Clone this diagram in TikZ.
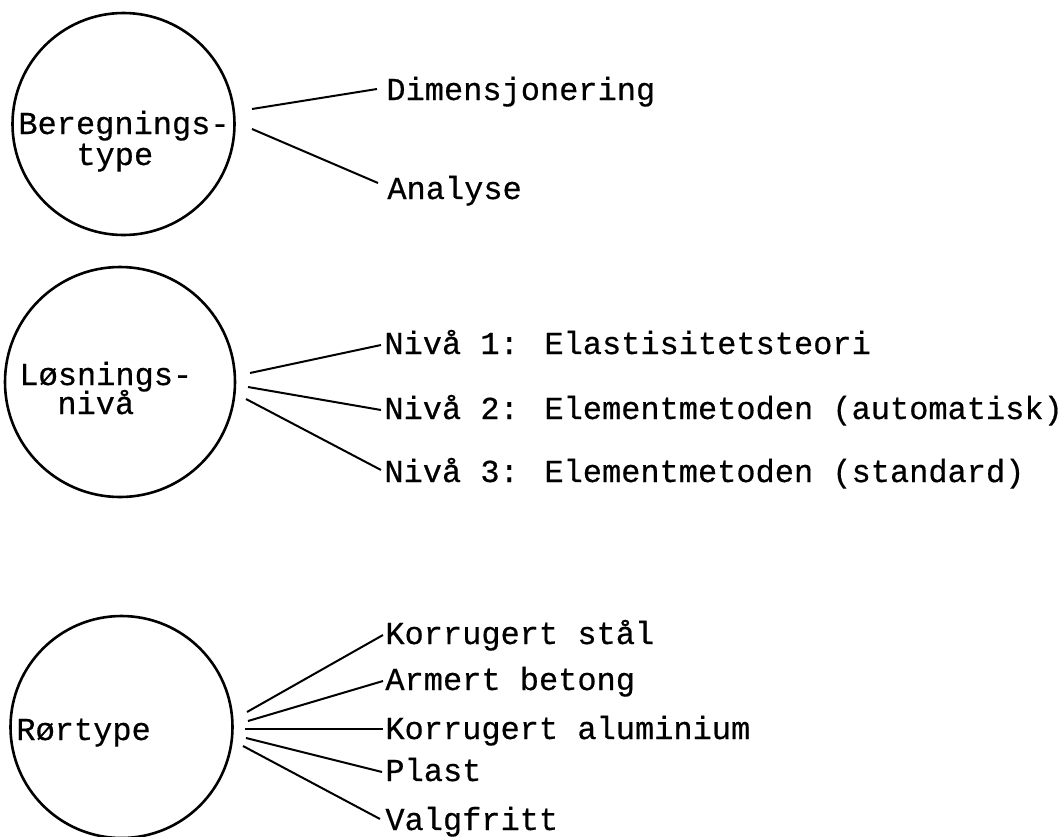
\documentclass[tikz,border=0pt]{standalone}
\usepackage{fontspec}
\setmainfont{Liberation Mono}[FakeBold=0.5]
\usetikzlibrary{calc}
\begin{document}
\begin{tikzpicture}[x=0.5pt,y=-0.5pt,
  ring/.style={draw, circle, line width=1.3pt, inner sep=0pt, minimum size=#1},
  lbl/.style={inner sep=0pt, anchor=west, text height=9pt, text depth=0pt,
              font=\fontsize{16}{19}\selectfont},
  link/.style={line width=1pt}]
\useasboundingbox (0,0) rectangle (1060,836);
\clip (0,0) rectangle (1060,836);

% ---- Beregningstype ----
\node[ring=111pt] (c1) at (123.5,124) {};
\node[lbl] (t1a) at (18,125) {Beregnings-};
\node[lbl] (t1b) at (76,156) {type};
\node[lbl] (dim) at (386,91) {Dimensjonering};
\node[lbl] (ana) at (387,190) {Analyse};
\coordinate (s1a) at (252,109);
\coordinate (s1b) at (252,129);
\draw[link] (s1a) -- ($(dim.west)+(-9,-2)$);
\draw[link] (s1b) -- ($(ana.west)+(-9,-7)$);

% ---- Losningsniva ----
\node[ring=115pt] (c2) at (120,382) {};
\node[lbl] (t2a) at (19,376) {Løsnings-};
\node[lbl] (t2b) at (57,405) {nivå};
\node[lbl] (n1) at (384,345) {Nivå 1: Elastisitetsteori};
\node[lbl] (n2) at (384,410) {Nivå 2: Elementmetoden (automatisk)};
\node[lbl] (n3) at (384,473) {Nivå 3: Elementmetoden (standard)};
\coordinate (s2a) at (250,373);
\coordinate (s2b) at (248,387);
\coordinate (s2c) at (246,399);
\draw[link] (s2a) -- ($(n1.west)+(-3,0)$);
\draw[link] (s2b) -- ($(n2.west)+(-3,0)$);
\draw[link] (s2c) -- ($(n3.west)+(-3,-3)$);

% ---- Rortype ----
\node[ring=111pt] (c3) at (121.5,727) {};
\node[lbl] (t3) at (16,731) {Rørtype};
\node[lbl] (r1) at (385,635) {Korrugert stål};
\node[lbl] (r2) at (385,681) {Armert betong};
\node[lbl] (r3) at (385,730) {Korrugert aluminium};
\node[lbl] (r4) at (385,772) {Plast};
\node[lbl] (r5) at (385,821) {Valgfritt};
\coordinate (s3a) at (247,712);
\coordinate (s3b) at (248,721);
\coordinate (s3c) at (245,729);
\coordinate (s3d) at (246,738);
\coordinate (s3e) at (243,746);
\draw[link] (s3a) -- ($(r1.west)+(-2,0)$);
\draw[link] (s3b) -- ($(r2.west)+(-2,0)$);
\draw[link] (s3c) -- ($(r3.west)+(-2,-1)$);
\draw[link] (s3d) -- ($(r4.west)+(-3,0)$);
\draw[link] (s3e) -- ($(r5.west)+(-5,-2)$);
\end{tikzpicture}
\end{document}
